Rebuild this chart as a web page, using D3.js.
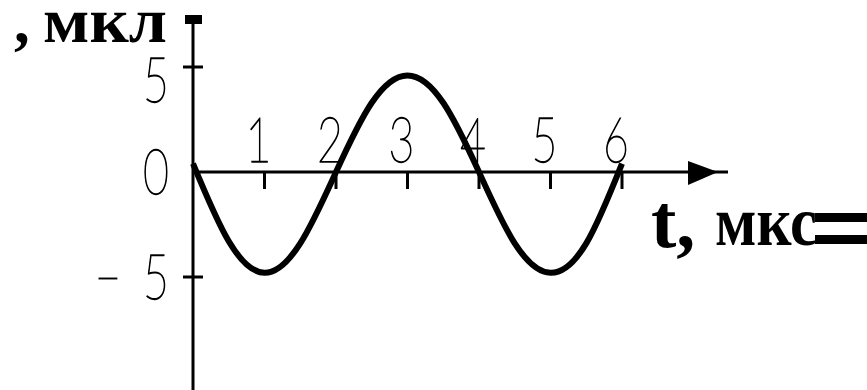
<!DOCTYPE html>
<html>
<head>
<meta charset="utf-8">
<script src="https://cdn.jsdelivr.net/npm/d3@7"></script>
<style>
  html, body { margin: 0; padding: 0; background: #fff; }
  svg { display: block; }
</style>
</head>
<body>
<script>
// Charge q (мкКл) against time t (мкс): one and a half periods of oscillation
const timeUs  = [0, 0.5, 1, 1.5, 2, 2.5, 3, 3.5, 4, 4.5, 5, 5.5, 6];
const chargeQ = [0.4, -3.3, -4.8, -3.4, 0, 3.3, 4.6, 3.3, 0, -3.4, -4.8, -3.4, 0.4];
const xTicks  = [1, 2, 3, 4, 5, 6];
const yTicks  = [5, 0, -5];
const yLabels = ["5", "0", "\u2212\u20025"];

const W = 867, H = 390;
const svg = d3.select("body").append("svg").attr("width", W).attr("height", H);

const x = d3.scaleLinear().domain([0, 6]).range([193, 622]);
const y = d3.scaleLinear().domain([-5, 5]).range([277, 67]);

const digitFont = "Lato, 'DejaVu Sans', sans-serif";
const titleFont = "'Liberation Serif', 'Times New Roman', serif";

// vertical axis with a small cap at its top
svg.append("line")
  .attr("x1", x(0)).attr("x2", x(0)).attr("y1", 18).attr("y2", H)
  .attr("stroke", "#000").attr("stroke-width", 3);
svg.append("rect")
  .attr("x", x(0) - 8).attr("y", 15).attr("width", 17).attr("height", 9)
  .attr("fill", "#000");

// horizontal axis with arrow head
svg.append("line")
  .attr("x1", x(0)).attr("x2", 728).attr("y1", y(0)).attr("y2", y(0))
  .attr("stroke", "#000").attr("stroke-width", 3);
svg.append("path")
  .attr("d", `M688,${y(0) - 11} L718,${y(0)} L688,${y(0) + 13} Z`)
  .attr("fill", "#000");

// ticks on the time axis (pointing down)
svg.selectAll("line.xt").data(xTicks).enter().append("line")
  .attr("class", "xt")
  .attr("x1", d => x(d)).attr("x2", d => x(d))
  .attr("y1", y(0)).attr("y2", y(0) + 17)
  .attr("stroke", "#000").attr("stroke-width", 3);

// ticks on the charge axis (crossing it)
svg.selectAll("line.yt").data(yTicks.filter(d => d !== 0)).enter().append("line")
  .attr("class", "yt")
  .attr("x1", x(0) - 10).attr("x2", x(0) + 10)
  .attr("y1", d => y(d)).attr("y2", d => y(d))
  .attr("stroke", "#000").attr("stroke-width", 3);

// curve
const line = d3.line().x((d, i) => x(timeUs[i])).y(d => y(d)).curve(d3.curveNatural);
svg.append("path")
  .datum(chargeQ)
  .attr("d", line)
  .attr("fill", "none")
  .attr("stroke", "#000")
  .attr("stroke-width", 6)
  .attr("stroke-linecap", "butt");

// tall narrow digit labels
function digit(sel) {
  return sel.attr("font-family", digitFont)
    .attr("font-weight", 100)
    .attr("font-size", 62)
    .attr("fill", "#000")
    .attr("stroke", "#000")
    .attr("stroke-width", 1.3);
}

svg.selectAll("text.xl").data(xTicks).enter().append("text")
  .attr("class", "xl")
  .attr("transform", d => `translate(${x(d) - 6},162) scale(0.72,1)`)
  .attr("text-anchor", "middle")
  .text(d => d)
  .call(digit);

svg.selectAll("text.yl").data(yTicks).enter().append("text")
  .attr("class", "yl")
  .attr("transform", d => `translate(169,${y(d) + (d === 5 ? 35 : 22)}) scale(0.72,1)`)
  .attr("text-anchor", "end")
  .text((d, i) => yLabels[i])
  .call(digit);

// axis titles
function title(sel, size) {
  return sel.attr("font-family", titleFont)
    .attr("font-weight", "bold")
    .attr("font-size", size)
    .attr("fill", "#000");
}

svg.append("text").attr("x", 14).attr("y", 42).text(",").call(title, 63);
svg.append("text").attr("x", 43).attr("y", 42)
  .attr("textLength", 124).attr("lengthAdjust", "spacingAndGlyphs")
  .text("мкл").call(title, 63);

svg.append("text").attr("x", 651).attr("y", 247).text("t,").call(title, 76);
svg.append("text").attr("x", 715).attr("y", 245)
  .attr("textLength", 102).attr("lengthAdjust", "spacingAndGlyphs")
  .text("мкс").call(title, 70);

// double rule trailing the time-axis title
svg.selectAll("rect.rule").data([213, 235]).enter().append("rect")
  .attr("class", "rule")
  .attr("x", 815).attr("y", d => d).attr("width", 60).attr("height", 9)
  .attr("fill", "#000");
</script>
</body>
</html>
